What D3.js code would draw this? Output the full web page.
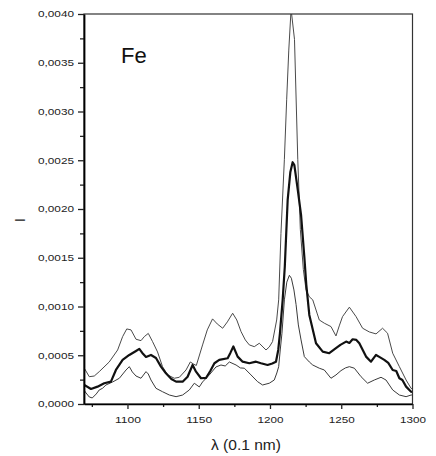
<!DOCTYPE html>
<html lang="en">
<head>
    <meta charset="UTF-8">
    <title>Fe</title>
    <script src="https://d3js.org/d3.v7.min.js"></script>
    <style>
        body { margin: 0; background: #fff; }
        svg { display: block; font-family: "Liberation Sans", Arial, sans-serif; }
    </style>
</head>
<body>
    <script>
        // wavelength (0.1 nm) and intensity, one pair of arrays per curve
        let upperLam = [1069, 1069.7, 1073.2, 1076.7, 1080.2, 1087.2, 1093.1, 1096.6, 1099.5, 1102.5, 1106.0, 1109.5, 1111.8, 1114.6, 1117.6, 1121.1, 1124.6, 1128.2, 1132.9, 1136.4, 1141.1, 1144.1, 1146.2, 1148.3, 1152.7, 1156.0, 1159.7, 1163.0, 1166.8, 1170.1, 1173.8, 1176.7, 1179.7, 1182.7, 1185.5, 1189.0, 1192.5, 1197.2, 1199.5, 1201.8, 1204.7, 1206.1, 1207.7, 1210.1, 1211.7, 1213.2, 1214.8, 1217.2, 1219.5, 1221.3, 1223.4, 1225.3, 1227.6, 1230.0, 1233.2, 1234.6, 1238.1, 1242.8, 1246.3, 1248.6, 1250.9, 1255.7, 1260.4, 1265.0, 1269.7, 1274.4, 1279.0, 1282.5, 1286.1, 1290.8, 1295.5, 1299.0, 1300];
        let upperI = [3.90, 3.67, 2.80, 2.87, 3.32, 4.31, 5.54, 6.91, 7.70, 7.60, 6.64, 6.50, 6.91, 7.24, 6.40, 5.34, 3.83, 2.98, 2.64, 2.74, 3.49, 4.31, 4.11, 3.95, 6.06, 7.60, 8.73, 8.21, 7.77, 8.42, 9.31, 8.62, 7.42, 6.57, 6.06, 5.88, 6.23, 5.54, 5.85, 6.40, 8.62, 10.68, 17.5, 25.1, 31.2, 36.3, 40.5, 37.4, 25.1, 17.9, 13.8, 11.7, 11.0, 10.68, 9.24, 8.62, 8.29, 7.94, 6.98, 8.01, 8.96, 9.93, 8.96, 7.77, 7.39, 7.19, 7.77, 7.26, 5.21, 3.83, 2.46, 1.61, 1.54];

        let meanLam = [1069, 1069.7, 1074.4, 1079.0, 1083.7, 1088.4, 1091.9, 1096.6, 1101.3, 1106.0, 1108.3, 1110.4, 1113.0, 1116.5, 1120.0, 1123.5, 1127.0, 1130.8, 1134.1, 1138.7, 1142.2, 1145.7, 1148.1, 1151.6, 1155.1, 1158.1, 1161.0, 1164.4, 1170.3, 1172.2, 1174.3, 1177.3, 1180.8, 1185.5, 1190.2, 1193.7, 1198.3, 1201.6, 1204.2, 1205.8, 1207.0, 1208.9, 1210.4, 1212.4, 1214.3, 1215.9, 1217.1, 1219.5, 1221.8, 1224.1, 1225.5, 1227.6, 1232.3, 1237.0, 1241.6, 1246.3, 1249.4, 1253.4, 1255.7, 1258.0, 1260.6, 1262.7, 1267.4, 1270.9, 1274.4, 1276.7, 1280.2, 1283.0, 1286.1, 1288.6, 1290.8, 1292.9, 1295.5, 1299.0, 1300];
        let meanI = [2.16, 1.95, 1.54, 1.78, 2.13, 2.29, 3.49, 4.52, 5.03, 5.44, 5.65, 5.24, 4.83, 5.03, 4.72, 3.83, 3.15, 2.57, 2.29, 2.29, 2.80, 4.00, 3.32, 2.64, 2.67, 3.39, 4.18, 4.52, 4.69, 5.24, 5.90, 4.86, 4.34, 4.18, 4.34, 4.18, 4.00, 4.16, 4.34, 5.54, 7.26, 10.68, 14.1, 20.9, 23.8, 24.8, 24.5, 21.97, 19.4, 15.1, 12.2, 9.14, 6.23, 5.37, 5.21, 5.72, 6.06, 6.40, 6.26, 6.64, 6.57, 6.23, 4.86, 4.34, 5.03, 4.83, 4.52, 4.21, 3.49, 3.39, 2.64, 2.46, 1.78, 1.26, 1.23];

        let lowerLam = [1069, 1070.4, 1073.2, 1075.3, 1078.1, 1080.2, 1082.5, 1084.9, 1089.6, 1094.3, 1099.0, 1101.3, 1103.4, 1106.0, 1109.5, 1113.0, 1114.6, 1116.5, 1120.0, 1124.6, 1129.4, 1134.1, 1138.7, 1143.4, 1146.9, 1150.4, 1152.7, 1157.4, 1162.1, 1165.6, 1168.6, 1171.5, 1176.2, 1179.2, 1182.0, 1186.7, 1191.3, 1194.8, 1199.5, 1203.0, 1204.8, 1206.1, 1207.2, 1208.4, 1210.1, 1211.8, 1213.6, 1215.0, 1216.8, 1218.3, 1219.9, 1221.8, 1224.1, 1227.6, 1230.0, 1234.6, 1238.1, 1242.8, 1246.3, 1249.8, 1252.9, 1255.7, 1259.2, 1263.9, 1268.5, 1273.2, 1277.9, 1281.4, 1286.1, 1290.8, 1295.5, 1299.0, 1300];
        let lowerI = [1.64, 1.23, 0.72, 0.62, 1.03, 1.44, 1.61, 1.95, 2.26, 2.64, 3.49, 3.83, 3.29, 2.87, 2.64, 3.32, 3.08, 2.46, 1.61, 1.26, 0.92, 0.75, 0.92, 1.44, 2.13, 1.75, 2.26, 2.98, 3.80, 4.00, 3.90, 4.31, 4.00, 3.70, 3.67, 2.98, 2.29, 1.95, 2.13, 2.46, 3.18, 3.83, 5.54, 7.26, 10.68, 12.5, 13.2, 12.9, 11.7, 10.2, 8.11, 6.57, 4.86, 4.31, 4.00, 3.67, 3.49, 2.64, 2.98, 3.42, 3.70, 3.83, 3.67, 2.80, 2.13, 2.46, 2.74, 2.46, 1.44, 0.92, 0.75, 0.92, 0.92];

        let xTicks = [1100, 1150, 1200, 1250, 1300];
        let yTicks = [0, 0.0005, 0.0010, 0.0015, 0.0020, 0.0025, 0.0030, 0.0035, 0.0040];

        let width = 436,
            height = 456;
        let margin = { top: 14, left: 84, right: 23.5, bottom: 52 };

        let svg = d3.select('body')
                    .append('svg')
                    .attr('width', width)
                    .attr('height', height);

        let x = d3.scaleLinear()
                  .domain([1069.5, 1300])
                  .range([margin.left, width - margin.right]);
        let y = d3.scaleLinear()
                  .domain([0, 0.004])
                  .range([height - margin.bottom, margin.top]);

        // intensities above are in units of 1e-4
        let toPoints = (lam, vals) => lam.map((l, i) => [l, vals[i] * 1e-4]);

        svg.append('clipPath')
           .attr('id', 'plot')
           .append('rect')
           .attr('x', margin.left)
           .attr('y', margin.top)
           .attr('width', width - margin.right - margin.left)
           .attr('height', height - margin.bottom - margin.top);

        let line = d3.line()
                     .x(d => x(d[0]))
                     .y(d => y(d[1]));

        let curves = [
            { pts: toPoints(upperLam, upperI), color: '#4a4a4a', w: 1 },
            { pts: toPoints(lowerLam, lowerI), color: '#3a3a3a', w: 1 },
            { pts: toPoints(meanLam, meanI), color: '#111', w: 2.2 }
        ];

        svg.append('g')
           .attr('clip-path', 'url(#plot)')
           .selectAll('path')
           .data(curves)
           .enter()
           .append('path')
           .attr('fill', 'none')
           .attr('stroke', d => d.color)
           .attr('stroke-width', d => d.w)
           .attr('stroke-linejoin', 'round')
           .attr('d', d => line(d.pts));

        // frame
        svg.append('rect')
           .attr('x', margin.left)
           .attr('y', margin.top)
           .attr('width', width - margin.right - margin.left)
           .attr('height', height - margin.bottom - margin.top)
           .attr('fill', 'none')
           .attr('stroke', '#333')
           .attr('stroke-width', 1.2);

        // minor ticks
        let xMinor = d3.range(1075, 1300, 50);
        let yMinor = d3.range(0.00025, 0.004, 0.0005);

        svg.append('g')
           .attr('transform', `translate(0, ${height - margin.bottom})`)
           .call(d3.axisBottom(x).tickValues(xMinor).tickSize(3).tickFormat(''))
           .call(g => g.select('.domain').remove());
        svg.append('g')
           .attr('transform', `translate(${margin.left}, 0)`)
           .call(d3.axisLeft(y).tickValues(yMinor).tickSize(4).tickFormat(''))
           .call(g => g.select('.domain').remove());

        let fmt = d3.format('.4f');

        let xAxis = svg.append('g')
                       .attr('transform', `translate(0, ${height - margin.bottom})`)
                       .call(d3.axisBottom(x).tickValues(xTicks).tickSize(5).tickPadding(7).tickSizeOuter(0)
                                .tickFormat(d3.format('d')));
        xAxis.select('.domain').attr('stroke-width', 1.6);
        xAxis.selectAll('text')
             .attr('font-size', 9.5)
             .attr('font-family', '"Liberation Sans", Arial, sans-serif')
             .attr('fill', '#222')
             .attr('textLength', 26)
             .attr('lengthAdjust', 'spacingAndGlyphs');

        let yAxis = svg.append('g')
                       .attr('transform', `translate(${margin.left}, 0)`)
                       .call(d3.axisLeft(y).tickValues(yTicks).tickSize(6).tickPadding(4).tickSizeOuter(0)
                                .tickFormat(d => fmt(d).replace('.', ',')));
        yAxis.select('.domain').attr('stroke-width', 1.8);
        yAxis.selectAll('text')
             .attr('font-size', 9)
             .attr('font-family', '"Liberation Sans", Arial, sans-serif')
             .attr('fill', '#222')
             .attr('textLength', 36)
             .attr('lengthAdjust', 'spacingAndGlyphs');

        svg.selectAll('.tick line')
           .attr('stroke', '#222')
           .attr('stroke-width', 1.3);

        // labels
        svg.append('text')
           .attr('x', 246)
           .attr('y', 450)
           .attr('text-anchor', 'middle')
           .attr('font-size', 14)
           .attr('fill', '#222')
           .attr('textLength', 70)
           .attr('lengthAdjust', 'spacingAndGlyphs')
           .text('λ (0.1 nm)');

        svg.append('text')
           .attr('transform', 'translate(25, 220) rotate(-90)')
           .attr('text-anchor', 'middle')
           .attr('font-size', 14)
           .attr('fill', '#222')
           .text('I');

        svg.append('text')
           .attr('x', 121)
           .attr('y', 63)
           .attr('font-size', 22)
           .attr('fill', '#111')
           .text('Fe');
    </script>
</body>
</html>
